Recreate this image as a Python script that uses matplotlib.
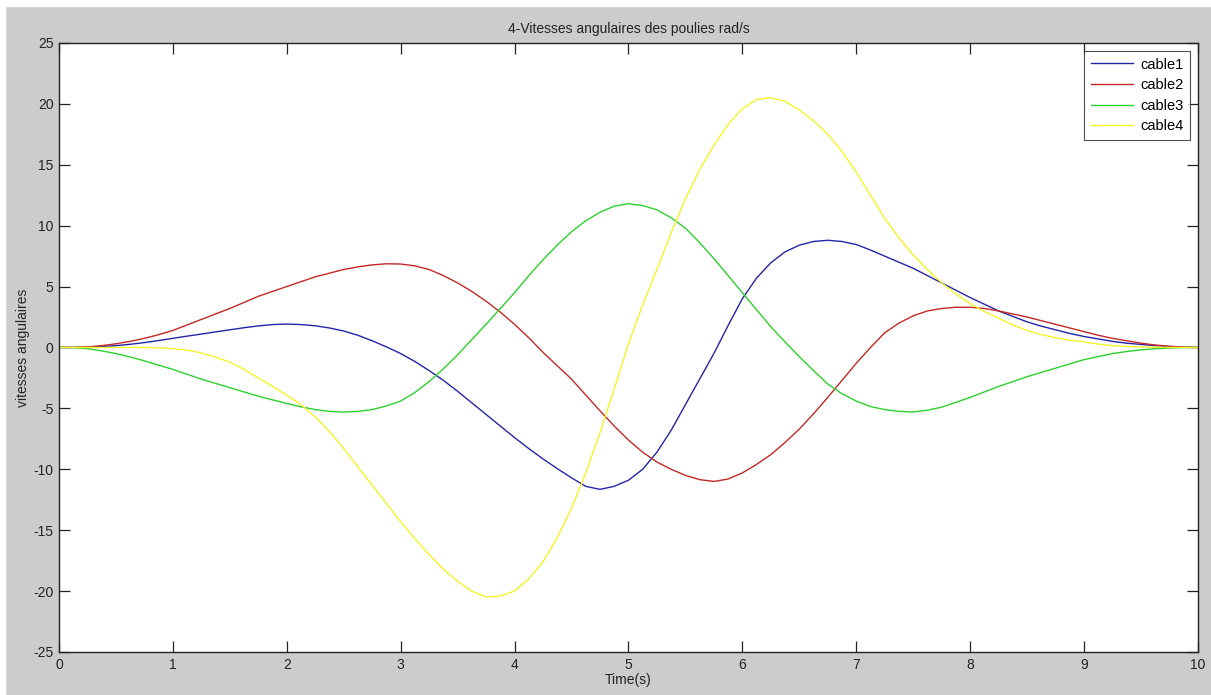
import matplotlib
matplotlib.use("Agg")
import matplotlib.pyplot as plt
import numpy as np
from matplotlib.patches import Rectangle

plt.rcParams['font.family'] = ['Liberation Sans', 'DejaVu Sans']
plt.rcParams['axes.unicode_minus'] = False

# temps (s), pas de 0.125 s
t = np.linspace(0, 10, 81)

# vitesses angulaires des poulies (rad/s)
cable1 = [0.0, 0.0, 0.03, 0.08, 0.15, 0.26, 0.4, 0.57, 0.75, 0.93,
          1.1, 1.28, 1.45, 1.62, 1.77, 1.88, 1.92, 1.88, 1.78, 1.6,
          1.35, 1.0, 0.55, 0.05, -0.5, -1.15, -1.9, -2.7, -3.6, -4.55,
          -5.5, -6.45, -7.4, -8.3, -9.15, -9.95, -10.7, -11.4, -11.65, -11.4,
          -10.9, -10.0, -8.6, -6.8, -4.7, -2.6, -0.5, 1.8, 4.0, 5.7,
          6.95, 7.85, 8.4, 8.7, 8.8, 8.7, 8.45, 8.0, 7.5, 7.0,
          6.5, 5.9, 5.3, 4.7, 4.1, 3.55, 3.0, 2.55, 2.1, 1.75,
          1.45, 1.15, 0.9, 0.7, 0.5, 0.35, 0.25, 0.15, 0.07, 0.02, 0.0]
cable2 = [0.0, 0.01, 0.05, 0.15, 0.3, 0.5, 0.75, 1.05, 1.4, 1.85,
          2.3, 2.75, 3.2, 3.7, 4.2, 4.6, 5.0, 5.4, 5.8, 6.1,
          6.4, 6.62, 6.78, 6.87, 6.85, 6.7, 6.4, 5.9, 5.3, 4.6,
          3.8, 2.9, 1.9, 0.8, -0.4, -1.5, -2.6, -3.9, -5.2, -6.45,
          -7.6, -8.6, -9.4, -10.0, -10.5, -10.85, -11.0, -10.8, -10.3, -9.6,
          -8.8, -7.8, -6.7, -5.45, -4.1, -2.7, -1.3, 0.0, 1.2, 2.0,
          2.6, 3.0, 3.2, 3.3, 3.3, 3.2, 3.0, 2.75, 2.5, 2.2,
          1.9, 1.6, 1.3, 1.0, 0.75, 0.55, 0.35, 0.2, 0.1, 0.03, 0.0]
cable3 = [0.0, -0.02, -0.1, -0.28, -0.5, -0.78, -1.1, -1.45, -1.8, -2.2,
          -2.6, -2.95, -3.3, -3.65, -4.0, -4.3, -4.6, -4.87, -5.1, -5.25,
          -5.3, -5.25, -5.1, -4.8, -4.4, -3.7, -2.8, -1.75, -0.6, 0.65,
          1.9, 3.2, 4.5, 5.9, 7.2, 8.4, 9.5, 10.4, 11.1, 11.6,
          11.8, 11.65, 11.3, 10.65, 9.8, 8.6, 7.3, 5.9, 4.5, 3.1,
          1.7, 0.45, -0.75, -1.9, -3.0, -3.8, -4.4, -4.85, -5.1, -5.25,
          -5.3, -5.15, -4.9, -4.5, -4.1, -3.65, -3.2, -2.8, -2.4, -2.05,
          -1.7, -1.35, -1.0, -0.75, -0.5, -0.33, -0.2, -0.1, -0.05, -0.01, 0.0]
cable4 = [0.0, 0.0, 0.0, 0.0, 0.0, 0.0, 0.0, -0.03, -0.1, -0.22,
          -0.45, -0.8, -1.2, -1.8, -2.5, -3.2, -3.9, -4.7, -5.7, -6.9,
          -8.3, -9.8, -11.3, -12.8, -14.3, -15.7, -17.0, -18.2, -19.2, -20.0,
          -20.5, -20.4, -20.0, -19.0, -17.6, -15.6, -13.2, -10.3, -7.0, -3.4,
          0.3, 3.5, 6.4, 9.4, 12.2, 14.6, 16.6, 18.3, 19.6, 20.35,
          20.5, 20.2, 19.5, 18.6, 17.5, 16.1, 14.4, 12.5, 10.6, 9.0,
          7.6, 6.4, 5.3, 4.4, 3.6, 2.95, 2.4, 1.85, 1.4, 1.05,
          0.8, 0.6, 0.45, 0.28, 0.15, 0.08, 0.05, 0.02, 0.0, 0.0, 0.0]

fig = plt.figure(figsize=(12.11, 6.95), dpi=100, facecolor='#cccccc')
# fine bande blanche en haut et a gauche
fig.add_artist(Rectangle((0, 0), 5 / 1211, 1, transform=fig.transFigure,
                         color='white', zorder=0))
fig.add_artist(Rectangle((0, 1 - 6 / 695), 1, 6 / 695, transform=fig.transFigure,
                         color='white', zorder=0))

ax = fig.add_axes([0.0487, 0.0619, 0.9405, 0.8763])
ax.set_facecolor('white')

ax.plot(t, cable1, color='#2424a8', lw=1.0, label='cable1')
ax.plot(t, cable2, color='#c42828', lw=1.0, label='cable2')
ax.plot(t, cable3, color='#2ed02e', lw=1.0, label='cable3')
ax.plot(t, cable4, color='#f4f42a', lw=1.0, label='cable4')

ax.set_xlim(0, 10)
ax.set_ylim(-25, 25)
ax.set_xticks(range(0, 11))
ax.set_yticks(range(-25, 26, 5))
ax.tick_params(direction='in', length=8, width=0.9, top=True, right=True,
               labelsize=10, colors='#222222', pad=4)
for s in ax.spines.values():
    s.set_color('#222222')
    s.set_linewidth(1.0)

ax.set_title('4-Vitesses angulaires des poulies rad/s', fontsize=10, pad=7, color='#222222')
ax.set_xlabel('Time(s)', fontsize=10, labelpad=1, color='#222222')
ax.set_ylabel('vitesses angulaires', fontsize=10, labelpad=2, color='#222222')

leg = ax.legend(loc='upper right', fontsize=10.5, frameon=True, fancybox=False,
                edgecolor='#222222', handlelength=2.9, handletextpad=0.5,
                labelspacing=0.45, borderpad=0.45, borderaxespad=0.55)
leg.get_frame().set_linewidth(0.8)

fig.savefig('out.png', dpi=100, facecolor=fig.get_facecolor())
